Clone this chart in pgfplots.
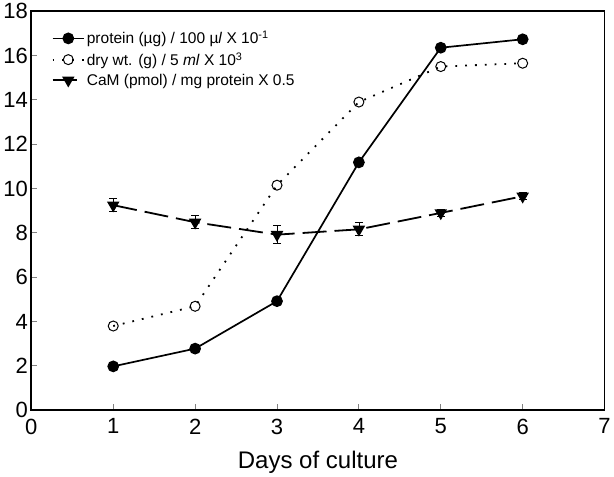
\documentclass[border=0pt]{standalone}
\usepackage{fontspec}
\setmainfont{Liberation Sans}
\usepackage{pgfplots}
\pgfplotsset{compat=1.18}
\begin{document}
\begin{tikzpicture}
\begin{axis}[
  scale only axis, width=573pt, height=399pt,
  xmin=0, xmax=7, ymin=0, ymax=18,
  xtick={0,...,7}, ytick={0,2,...,18},
  tick align=inside, tick style={line width=1pt}, major tick length=6pt,
  xtick pos=bottom, ytick pos=left,
  axis line style={line width=1.8pt},
  ticklabel style={font=\fontsize{22}{24}\selectfont},
  xticklabel style={yshift=-5pt},
  /pgf/number format/assume math mode=true,
  xlabel={Days of culture}, xlabel style={font=\fontsize{24}{26}\selectfont, yshift=-10pt},
  legend style={draw=none, fill=none, at={(0.03,0.96)}, anchor=north west,
    font=\fontsize{15.5}{17}\selectfont, row sep=3pt},
  legend cell align=left,
  legend image code/.code={
    \draw[mark repeat=2, mark phase=2, #1] plot coordinates {(0cm,0cm) (0.55cm,0cm) (1.1cm,0cm)};},
]
\addplot[black, line width=1.7pt, mark=*, mark size=5pt] coordinates {
(1,1.98) (2,2.78) (3,4.92) (4,11.18) (5,16.35) (6,16.73)};
\addlegendentry{protein (µg) / 100 µ\textit{l} X 10\textsuperscript{-1}}
\addplot[black, line width=1.8pt, dash pattern=on 1.8pt off 8pt, mark=o, mark size=5pt, mark options={solid, line width=1pt}] coordinates {
(1,3.8) (2,4.69) (3,10.15) (4,13.9) (5,15.5) (6,15.65)};
\addlegendentry{dry wt. (g) / 5 \textit{ml} X 10\textsuperscript{3}}
\addplot[black, line width=1.8pt, dash pattern=on 24pt off 8pt, mark=triangle*, mark size=5.5pt, mark options={solid, rotate=180},
  error bars/.cd, y dir=both, y explicit, error mark options={rotate=90, line width=1pt, mark size=4pt, solid}] coordinates {
(1,9.25) +- (0,0.3) (2,8.48) +- (0,0.3) (3,7.92) +- (0,0.4) (4,8.16) +- (0,0.3) (5,8.9) +- (0,0.15) (6,9.65) +- (0,0.15)};
\addlegendentry{CaM (pmol) / mg protein X 0.5}
\end{axis}
\end{tikzpicture}
\end{document}
